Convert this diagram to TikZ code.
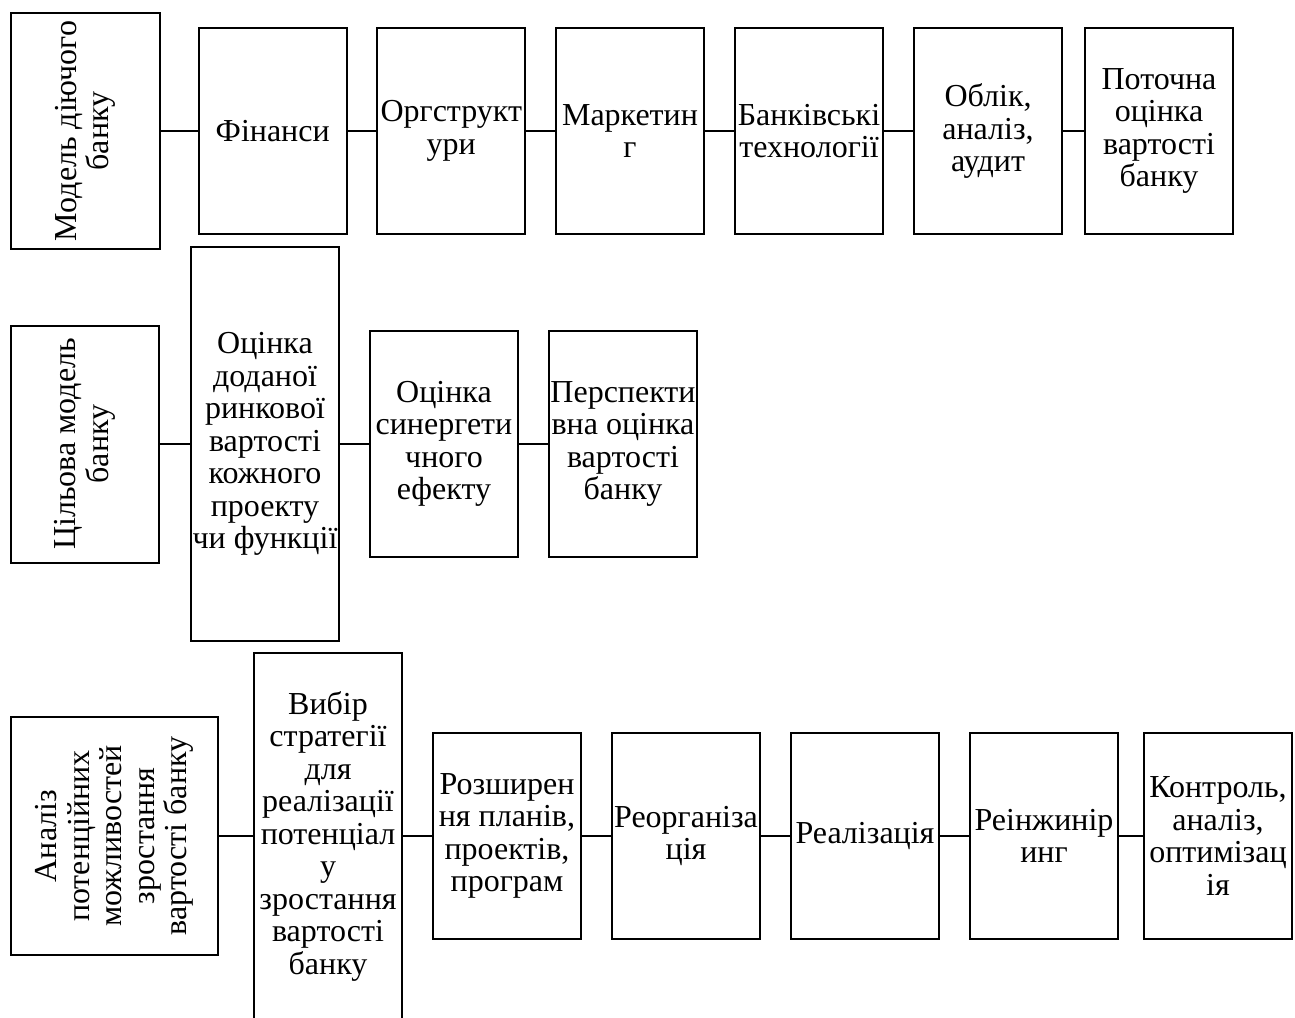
\documentclass[tikz,border=0pt]{standalone}
\usepackage{fontspec}
\setmainfont{Liberation Serif}
\usetikzlibrary{positioning}

\begin{document}
\begin{tikzpicture}[-, x=1pt, y=-1pt, line width=2pt,
            font=\fontsize{32}{32.5}\selectfont,
            blok/.style ={rectangle, draw, align=center, inner sep=1pt,
            minimum width=148, minimum height=206},
            tall/.style ={blok, rotate=90}]

            \clip (0,0) rectangle (1295,1017);

            %model diyuchogo banku
            \node[tall, minimum width=236, minimum height=149] (m0) at (85.5, 131) {Модель діючого\\банку};
            \node[blok] (m1) at (272.7, 131) {Фінанси};
            \node[blok] (m2) at (451.3, 131) {Оргструкт\\ури};
            \node[blok] (m3) at (630, 131) {Маркетин\\г};
            \node[blok] (m4) at (809, 131) {Банківські\\технології};
            \node[blok] (m5) at (988, 131) {Облік,\\аналіз,\\аудит};
            \node[blok] (m6) at (1159, 131) {Поточна\\оцінка\\вартості\\банку};

            \path (m0) edge (m1);
            \path (m1) edge (m2);
            \path (m2) edge (m3);
            \path (m3) edge (m4);
            \path (m4) edge (m5);
            \path (m5) edge (m6);

            %cilova model
            \node[tall, minimum width=237, minimum height=148] (c0) at (85, 444) {Цільова модель\\банку};
            \node[blok, minimum height=394] (c1) at (265, 444) {Оцінка\\доданої\\ринкової\\вартості\\кожного\\проекту\\чи функції};
            \node[blok, minimum height=226] (c2) at (444, 444) {Оцінка\\синергети\\чного\\ефекту};
            \node[blok, minimum height=226] (c3) at (623, 444) {Перспекти\\вна оцінка\\вартості\\банку};

            \path (c0) edge (c1);
            \path (c1) edge (c2);
            \path (c2) edge (c3);

            %analiz i realizaciya
            \node[tall, minimum width=238, minimum height=207] (a0) at (114.5, 836) {Аналіз\\потенційних\\можливостей\\зростання\\вартості банку};
            \node[blok, minimum height=366] (a1) at (328, 836) {Вибір\\стратегії\\для\\реалізації\\потенціал\\у\\зростання\\вартості\\банку};
            \node[blok] (a2) at (507, 836) {Розширен\\ня планів,\\проектів,\\програм};
            \node[blok] (a3) at (686, 836) {Реорганіза\\ція};
            \node[blok] (a4) at (865, 836) {Реалізація};
            \node[blok] (a5) at (1044, 836) {Реінжинір\\инг};
            \node[blok] (a6) at (1218, 836) {Контроль,\\аналіз,\\оптимізац\\ія};

            \path (a0) edge (a1);
            \path (a1) edge (a2);
            \path (a2) edge (a3);
            \path (a3) edge (a4);
            \path (a4) edge (a5);
            \path (a5) edge (a6);
        \end{tikzpicture}
\end{document}
